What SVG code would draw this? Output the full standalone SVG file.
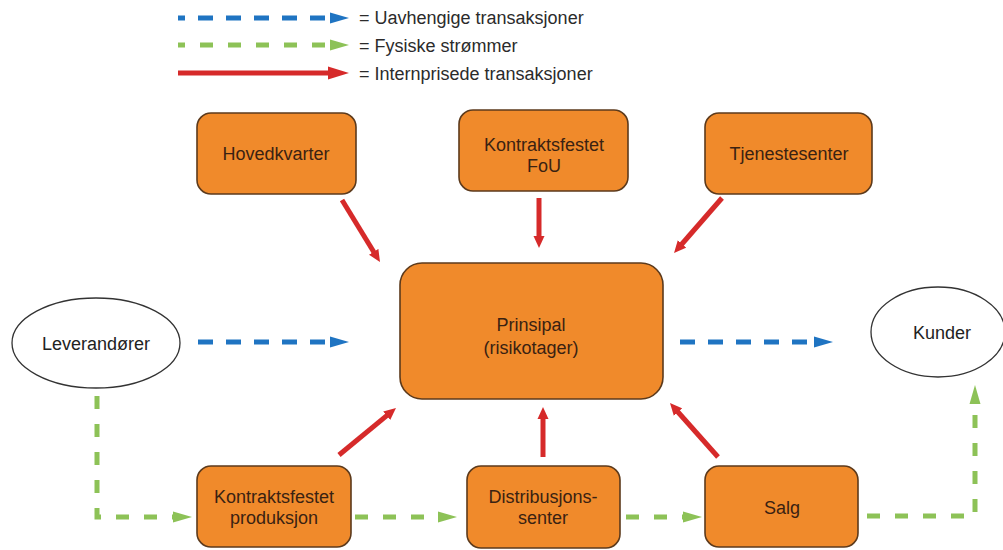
<svg xmlns="http://www.w3.org/2000/svg" width="1003" height="550" viewBox="0 0 1003 550">
  <defs>
    <style>
      text { font-family: "Liberation Sans", Arial, sans-serif; font-size: 18px; text-anchor: middle; }
      .legend { text-anchor: start; fill: #2b2b2b; }
      .box { fill: #F08A2B; stroke: #5C3A1C; stroke-width: 1.6; }
      .box-text { fill: #3A2212; }
      .ext { fill: #ffffff; stroke: #333333; stroke-width: 1.3; }
      .ext-text { fill: #222222; }
      .blue { fill: none; stroke: #1F74C2; stroke-width: 5; stroke-dasharray: 15 13; }
      .green { fill: none; stroke: #8DC257; stroke-width: 5; stroke-dasharray: 13 15; }
      .red { fill: none; stroke: #D62A2A; stroke-width: 5; }
    </style>
    <marker id="head-blue" markerUnits="userSpaceOnUse" markerWidth="20" markerHeight="12" refX="0" refY="6" orient="auto">
      <path d="M0,0.5 L19,6 L0,11.5 z" fill="#1F74C2"/>
    </marker>
    <marker id="head-green" markerUnits="userSpaceOnUse" markerWidth="20" markerHeight="12" refX="0" refY="6" orient="auto">
      <path d="M0,0.5 L19,6 L0,11.5 z" fill="#8DC257"/>
    </marker>
    <marker id="head-red" markerUnits="userSpaceOnUse" markerWidth="14" markerHeight="12" refX="4" refY="6" orient="auto">
      <path d="M0,0.5 L12,6 L0,11.5 z" fill="#D62A2A"/>
    </marker>
    <marker id="head-red-legend" markerUnits="userSpaceOnUse" markerWidth="22" markerHeight="14" refX="2" refY="7" orient="auto">
      <path d="M0,0.5 L21,7 L0,13.5 z" fill="#D62A2A"/>
    </marker>
  </defs>

  <rect width="1003" height="550" fill="#ffffff"/>

  <!-- legend -->
  <g id="legend">
    <path class="blue" d="M178,18 H330" stroke-dashoffset="8" marker-end="url(#head-blue)"/>
    <text class="legend" x="359" y="24">= Uavhengige transaksjoner</text>
    <path class="green" d="M178,45 H330" stroke-dashoffset="6" marker-end="url(#head-green)"/>
    <text class="legend" x="359" y="52">= Fysiske strømmer</text>
    <path class="red" d="M178,73 H330" stroke-width="6" marker-end="url(#head-red-legend)"/>
    <text class="legend" x="359" y="80">= Internprisede transaksjoner</text>
  </g>

  <!-- connectors -->
  <g id="connectors">
    <!-- internal priced transactions -->
    <path class="red" d="M342,200 L375.8,255.2" marker-end="url(#head-red)"/>
    <path class="red" d="M539,198 L539,240" marker-end="url(#head-red)"/>
    <path class="red" d="M722,198 L679.3,247" marker-end="url(#head-red)"/>
    <path class="red" d="M339,455 L389.8,413.1" marker-end="url(#head-red)"/>
    <path class="red" d="M543,457 L543,415" marker-end="url(#head-red)"/>
    <path class="red" d="M718,457 L675.3,409" marker-end="url(#head-red)"/>
    <!-- independent transactions -->
    <path class="blue" d="M198,342 H330" marker-end="url(#head-blue)"/>
    <path class="blue" d="M680,342 H814" marker-end="url(#head-blue)"/>
    <!-- physical flows -->
    <path class="green" d="M97,396 V517 H173" marker-end="url(#head-green)"/>
    <path class="green" d="M355,517 H438" marker-end="url(#head-green)"/>
    <path class="green" d="M626,517 H683" marker-end="url(#head-green)"/>
    <path class="green" d="M867,516 H975 V404" marker-end="url(#head-green)"/>
  </g>

  <!-- nodes -->
  <g id="hovedkvarter">
    <rect class="box" x="197" y="113" width="159" height="81" rx="14"/>
    <text class="box-text" x="276" y="160">Hovedkvarter</text>
  </g>
  <g id="fou">
    <rect class="box" x="459" y="110" width="169" height="81" rx="14"/>
    <text class="box-text" x="544" y="151">Kontraktsfestet</text>
    <text class="box-text" x="544" y="172">FoU</text>
  </g>
  <g id="tjenestesenter">
    <rect class="box" x="705" y="113" width="167" height="81" rx="14"/>
    <text class="box-text" x="789" y="160">Tjenestesenter</text>
  </g>
  <g id="prinsipal">
    <rect class="box" x="400" y="263" width="263" height="136" rx="22"/>
    <text class="box-text" x="531" y="331">Prinsipal</text>
    <text class="box-text" x="531" y="354">(risikotager)</text>
  </g>
  <g id="leverandorer">
    <ellipse class="ext" cx="96" cy="343" rx="84" ry="45"/>
    <text class="ext-text" x="96" y="350">Leverandører</text>
  </g>
  <g id="kunder">
    <ellipse class="ext" cx="938" cy="332" rx="67" ry="45"/>
    <text class="ext-text" x="942" y="339">Kunder</text>
  </g>
  <g id="produksjon">
    <rect class="box" x="197" y="466" width="154" height="81" rx="14"/>
    <text class="box-text" x="274" y="503">Kontraktsfestet</text>
    <text class="box-text" x="274" y="524">produksjon</text>
  </g>
  <g id="distribusjon">
    <rect class="box" x="467" y="466" width="153" height="82" rx="14"/>
    <text class="box-text" x="543" y="503">Distribusjons-</text>
    <text class="box-text" x="543" y="524">senter</text>
  </g>
  <g id="salg">
    <rect class="box" x="705" y="466" width="153" height="81" rx="14"/>
    <text class="box-text" x="782" y="514">Salg</text>
  </g>
</svg>
